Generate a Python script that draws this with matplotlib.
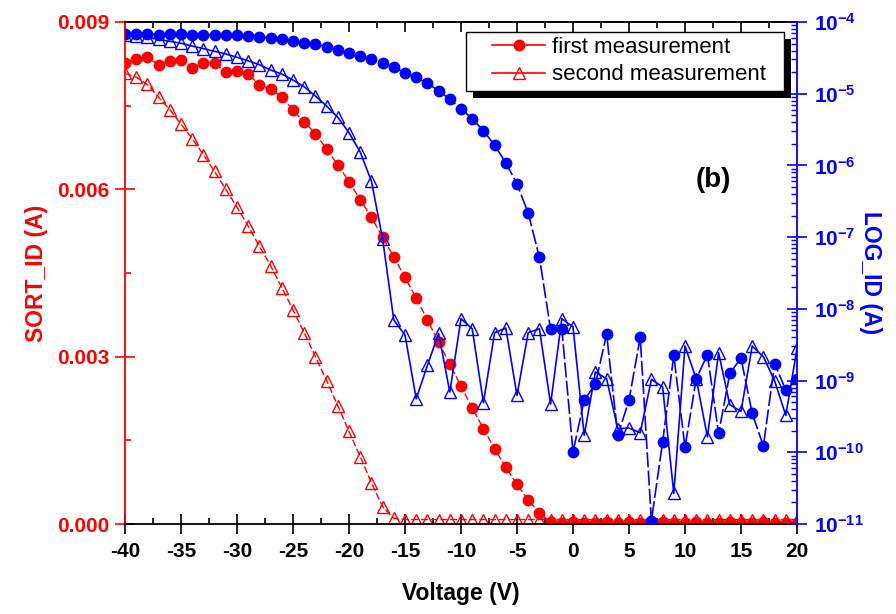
import numpy as np
import matplotlib
matplotlib.use('Agg')
import matplotlib.pyplot as plt
from matplotlib.lines import Line2D
from matplotlib.patches import Rectangle
from matplotlib.legend_handler import HandlerLine2D
from matplotlib.ticker import MultipleLocator, LogLocator, FuncFormatter, NullFormatter
from matplotlib.transforms import IdentityTransform

plt.rcParams['font.family'] = ['Liberation Sans', 'DejaVu Sans']
plt.rcParams['font.weight'] = 'bold'
plt.rcParams['axes.unicode_minus'] = False
plt.rcParams['mathtext.fontset'] = 'custom'
plt.rcParams['mathtext.rm'] = 'Liberation Sans:bold'
plt.rcParams['mathtext.bf'] = 'Liberation Sans:bold'

# gate voltage, -40 V .. 20 V in 1 V steps
voltage = np.arange(-40, 21, 1)

# linear drain current (A), left axis
sort_first = [0.00827, 0.00833, 0.00837, 0.00823, 0.00830, 0.00831, 0.00818, 0.00826,
              0.00826, 0.00810, 0.00812, 0.00807, 0.00787, 0.00780, 0.00765, 0.00742,
              0.00721, 0.00700, 0.00672, 0.00644, 0.00614, 0.00581, 0.00550, 0.00514,
              0.00479, 0.00442, 0.00405, 0.00366, 0.00326, 0.00287, 0.00247, 0.00208,
              0.00171, 0.00135, 0.00102, 0.00071, 0.00043, 0.00020,
              0.00003, 0.00002, 0.00003, 0.00002, 0.00002, 0.00003, 0.00002, 0.00003,
              0.00002, 0.00002, 0.00003, 0.00002, 0.00002, 0.00003, 0.00002, 0.00002,
              0.00003, 0.00002, 0.00002, 0.00003, 0.00002, 0.00002, 0.00002]
sort_second = [0.00808, 0.00801, 0.00788, 0.00765, 0.00743, 0.00717, 0.00691, 0.00662,
               0.00632, 0.00600, 0.00568, 0.00534, 0.00498, 0.00463, 0.00424, 0.00384,
               0.00343, 0.00300, 0.00257, 0.00212, 0.00166, 0.00121, 0.00074, 0.00031,
               0.00010,
               0.00008, 0.00008, 0.00008, 0.00008, 0.00008, 0.00008, 0.00008, 0.00008,
               0.00008, 0.00008, 0.00008, 0.00008, 0.00008, 0.00008, 0.00008, 0.00008,
               0.00008, 0.00008, 0.00008, 0.00008, 0.00008, 0.00008, 0.00008, 0.00008,
               0.00008, 0.00008, 0.00008, 0.00008, 0.00008, 0.00008, 0.00008, 0.00008,
               0.00008, 0.00008, 0.00008, 0.00008]

# log drain current (A), right axis
log_first = [6.81e-5, 6.81e-5, 6.81e-5, 6.65e-5, 6.81e-5, 6.81e-5, 6.65e-5, 6.65e-5,
             6.65e-5, 6.52e-5, 6.52e-5, 6.38e-5, 6.12e-5, 5.98e-5, 5.74e-5, 5.38e-5,
             5.14e-5, 4.93e-5, 4.53e-5, 4.06e-5, 3.73e-5, 3.36e-5, 3.02e-5, 2.70e-5,
             2.33e-5, 1.96e-5, 1.69e-5, 1.40e-5, 1.10e-5, 8.36e-6, 6.18e-6, 4.48e-6,
             3.05e-6, 1.91e-6, 1.09e-6, 5.51e-7, 2.17e-7, 5.22e-8, 5.18e-9, 5.28e-9,
             1.01e-10, 5.35e-10, 8.93e-10, 4.46e-9, 1.72e-10, 5.35e-10, 4.00e-9, 1.11e-11,
             1.39e-10, 2.24e-9, 1.17e-10, 1.06e-9, 2.29e-9, 1.83e-10, 1.26e-9, 2.06e-9,
             3.49e-10, 1.22e-10, 1.73e-9, 7.36e-10, 1.04e-9]
log_second = [6.65e-5, 6.38e-5, 6.12e-5, 5.74e-5, 5.38e-5, 5.05e-5, 4.62e-5, 4.25e-5,
              3.90e-5, 3.58e-5, 3.22e-5, 2.88e-5, 2.54e-5, 2.14e-5, 1.88e-5, 1.55e-5,
              1.25e-5, 9.29e-6, 6.73e-6, 4.69e-6, 2.86e-6, 1.54e-6, 6.03e-7, 9.55e-8,
              6.98e-9, 4.32e-9, 5.57e-10, 1.63e-9, 4.55e-9, 6.92e-10, 7.28e-9, 5.28e-9,
              4.91e-10, 4.65e-9, 5.40e-9, 6.21e-10, 4.65e-9, 5.28e-9, 4.70e-10, 7.28e-9,
              5.62e-9, 1.72e-10, 1.32e-9, 1.06e-9, 2.13e-10, 2.18e-10, 1.87e-10, 1.04e-9,
              8.18e-10, 2.67e-11, 3.03e-9, 1.06e-9, 1.64e-10, 2.44e-9, 4.60e-10, 3.72e-10,
              3.03e-9, 2.15e-9, 9.93e-10, 3.27e-10, 2.81e-9]

red = '#ff0000'
blue = '#0000ff'

fig = plt.figure(figsize=(8.96, 6.14), dpi=100)
ax = fig.add_axes([125/896, 1 - 524/614, 672/896, 502/614])
ax2 = ax.twinx()

ax.plot(voltage, sort_first, color=red, ls=(0, (5, 2)), lw=1.0,
        marker='o', ms=7.5, mec=red, mfc=red)
ax.plot(voltage, sort_second, color=red, ls=(0, (5, 2)), lw=1.0,
        marker='^', ms=8, mec=red, mfc='none', mew=1.0)

ax2.plot(voltage, log_first, color=blue, ls=(0, (9, 2)), lw=1.2,
         marker='o', ms=7.5, mec=blue, mfc=blue)
ax2.plot(voltage, log_second, color=blue, ls='-', lw=1.2,
         marker='^', ms=8, mec=blue, mfc='none', mew=1.0)

ax.set_xlim(-40, 20)
ax.set_ylim(0, 0.009)
ax2.set_ylim(1e-11, 1e-4)
ax2.set_yscale('log')

ax.xaxis.set_major_locator(MultipleLocator(5))
ax.xaxis.set_minor_locator(MultipleLocator(2.5))
ax.yaxis.set_major_locator(MultipleLocator(0.003))
ax.yaxis.set_minor_locator(MultipleLocator(0.0015))
ax.yaxis.set_major_formatter(FuncFormatter(lambda v, p: f'{v:.3f}'))

ax2.yaxis.set_major_locator(LogLocator(base=10, numticks=20))
ax2.yaxis.set_minor_locator(LogLocator(base=10, subs=np.arange(2, 10), numticks=20))
ax2.yaxis.set_minor_formatter(NullFormatter())
ax2.yaxis.set_major_formatter(
    FuncFormatter(lambda v, p: r'$\mathbf{10^{%d}}$' % round(np.log10(v))))

# spines
for s in ['top', 'bottom']:
    ax.spines[s].set_color('k')
    ax.spines[s].set_linewidth(1.3)
ax.spines['left'].set_color(red)
ax.spines['left'].set_linewidth(1.3)
ax.spines['right'].set_visible(False)
for s in ['left', 'top', 'bottom']:
    ax2.spines[s].set_visible(False)
ax2.spines['right'].set_color(blue)
ax2.spines['right'].set_linewidth(1.3)

ax.tick_params(axis='x', which='major', direction='inout', length=14, width=1.2,
               labelsize=15, pad=6, colors='k')
ax.tick_params(axis='x', which='minor', direction='in', length=4, width=1.2, colors='k')
ax.tick_params(axis='y', which='major', direction='inout', length=14, width=1.2,
               labelsize=15, pad=4, colors=red)
ax.tick_params(axis='y', which='minor', direction='in', length=4, width=1.2, colors=red)
ax2.tick_params(axis='y', which='major', direction='inout', length=14, width=1.2,
                labelsize=15, pad=5, colors=blue)
ax2.tick_params(axis='y', which='minor', direction='in', length=4, width=1.0, colors=blue)

top = ax.secondary_xaxis('top')
top.xaxis.set_major_locator(MultipleLocator(5))
top.xaxis.set_minor_locator(MultipleLocator(2.5))
top.tick_params(which='major', direction='in', length=7, width=1.2, labeltop=False)
top.tick_params(which='minor', direction='in', length=4, width=1.2)
top.spines['top'].set_linewidth(1.3)

ax.set_xlabel('Voltage (V)', fontsize=16.5, fontweight='bold', labelpad=15)
ax.set_ylabel('SORT_ID (A)', fontsize=16.5, fontweight='bold', color=red, labelpad=7)
ax2.set_ylabel('LOG_ID (A)', fontsize=16.5, fontweight='bold', color=blue,
               rotation=-90, labelpad=-3, va='bottom')

ax2.text(0.875, 0.685, '(b)', transform=ax2.transAxes, fontsize=20,
         fontweight='bold', ha='center', va='center')

handles = [Line2D([], [], color=red, lw=1.2, marker='o', ms=7.5, mfc=red, mec=red),
           Line2D([], [], color=red, lw=1.2, marker='^', ms=8, mfc='none', mec=red)]
leg = ax2.legend(handles, ['first measurement', 'second measurement'],
                 loc='upper left', bbox_to_anchor=(0.5074, 0.9807), borderaxespad=0,
                 prop={'family': 'Liberation Sans', 'weight': 'normal', 'size': 16},
                 frameon=False, handlelength=3.3, handletextpad=0.32, borderpad=0.25,
                 labelspacing=0.28,
                 handler_map={Line2D: HandlerLine2D(xpad=0.93)})
leg.set_zorder(6)

# legend box with a solid black drop shadow, sized from the drawn legend
fig.canvas.draw()
bb = leg.get_window_extent()
box_w = bb.width + 12
ax2.add_patch(Rectangle((bb.x0 + 7, bb.y0 - 7), box_w, bb.height,
                        transform=IdentityTransform(), facecolor='k',
                        edgecolor='none', zorder=5.5, clip_on=False))
ax2.add_patch(Rectangle((bb.x0, bb.y0), box_w, bb.height,
                        transform=IdentityTransform(), facecolor='white',
                        edgecolor='k', lw=1.0, zorder=5.6, clip_on=False))

fig.savefig('out.png', dpi=100)
